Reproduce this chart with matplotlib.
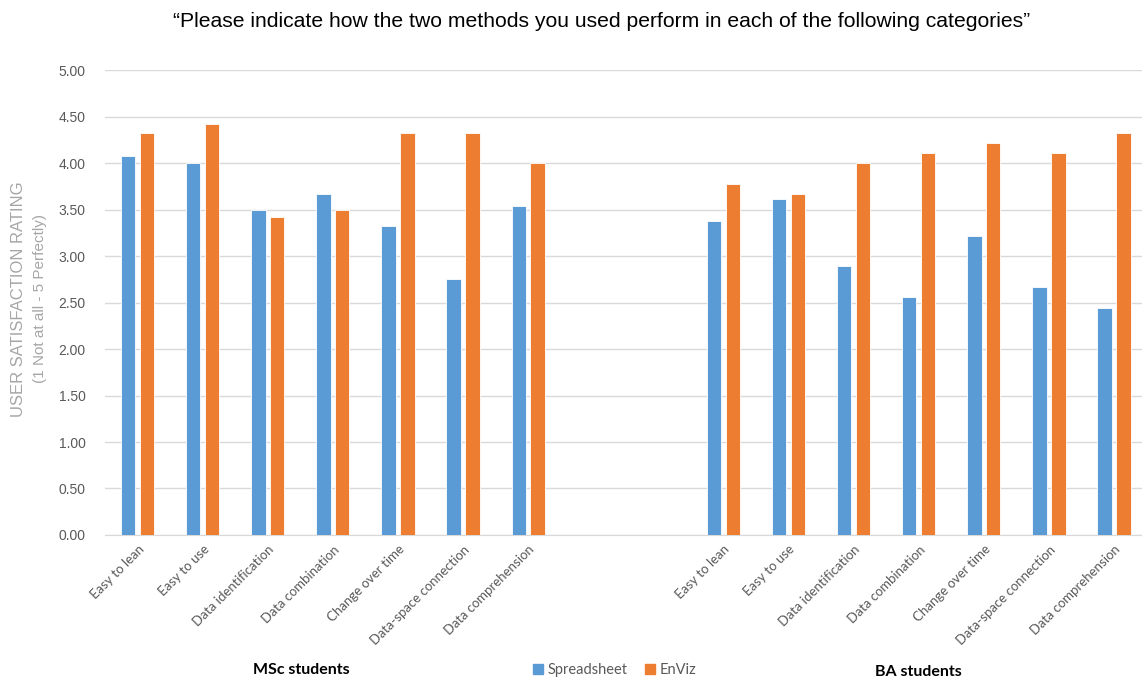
import numpy as np
import matplotlib.pyplot as plt

categories = ["Easy to lean", "Easy to use", "Data identification", "Data combination",
              "Change over time", "Data-space connection", "Data comprehension"]
msc_spreadsheet = [4.08, 4.00, 3.50, 3.67, 3.33, 2.75, 3.54]
msc_enviz = [4.33, 4.42, 3.42, 3.50, 4.33, 4.33, 4.00]
ba_spreadsheet = [3.38, 3.62, 2.89, 2.56, 3.22, 2.67, 2.44]
ba_enviz = [3.78, 3.67, 4.00, 4.11, 4.22, 4.11, 4.33]
yticks = [0, 0.5, 1, 1.5, 2, 2.5, 3, 3.5, 4, 4.5, 5]

blue = "#5B9BD5"
orange = "#ED7D31"
gray_txt = "#595959"

fig = plt.figure(figsize=(11.42, 6.84), dpi=100)
ax = fig.add_axes([0.092, 0.218, 0.912, 0.679])

x_msc = np.arange(len(categories))
x_ba = np.arange(len(categories)) + len(categories) + 2
w = 0.22
off = 0.145

for xs, s, e in [(x_msc, msc_spreadsheet, msc_enviz), (x_ba, ba_spreadsheet, ba_enviz)]:
    ax.bar(xs - off, s, w, color=blue, edgecolor="white", linewidth=0.6, zorder=3)
    ax.bar(xs + off, e, w, color=orange, edgecolor="white", linewidth=0.6, zorder=3)

ax.set_xlim(-0.5, 15.5)
ax.set_ylim(0, 5)
ax.set_yticks(yticks)
ax.set_yticklabels([f"{v:.2f}" for v in yticks], fontsize=10, color=gray_txt,
                   fontfamily="Liberation Sans")
ax.grid(axis="y", color="#D9D9D9", linewidth=1, zorder=0)
for sp in ["top", "right", "left"]:
    ax.spines[sp].set_visible(False)
ax.spines["bottom"].set_color("#D9D9D9")
ax.tick_params(length=0, pad=14)
ax.tick_params(axis="x", pad=6)

ax.set_xticks(np.concatenate([x_msc, x_ba]))
ax.set_xticklabels(categories + categories, rotation=45, ha="right",
                   rotation_mode="anchor", fontsize=9.5, color=gray_txt, fontfamily="Lato")

fig.text(0.527, 0.968, "\u201cPlease indicate how the two methods you used perform in each of the following categories\u201d",
         ha="center", va="center", fontsize=15.2, fontfamily="Liberation Sans", color="black")

fig.text(0.016, 0.563, "USER SATISFACTION RATING", rotation=90, ha="center", va="center",
         fontsize=12, color="#A6A6A6", fontfamily="Liberation Sans")
fig.text(0.035, 0.563, "(1 Not at all - 5 Perfectly)", rotation=90, ha="center", va="center",
         fontsize=11, color="#A6A6A6", fontfamily="Liberation Sans")

fig.text(0.264, 0.02, "MSc students", ha="center", va="center", fontsize=11.5,
         fontweight="bold", fontfamily="Lato", color="black")
fig.text(0.804, 0.017, "BA students", ha="center", va="center", fontsize=11.5,
         fontweight="bold", fontfamily="Lato", color="black")

handles = [plt.Rectangle((0, 0), 1, 1, color=blue), plt.Rectangle((0, 0), 1, 1, color=orange)]
leg = fig.legend(handles, ["Spreadsheet", "EnViz"], loc="center", bbox_to_anchor=(0.538, 0.02),
                 ncol=2, frameon=False, handlelength=0.7, handleheight=0.7, handletextpad=0.3,
                 columnspacing=1.2, prop={"family": "Lato", "size": 10.5})
for t in leg.get_texts():
    t.set_color(gray_txt)

fig.savefig("out.png", dpi=100)
